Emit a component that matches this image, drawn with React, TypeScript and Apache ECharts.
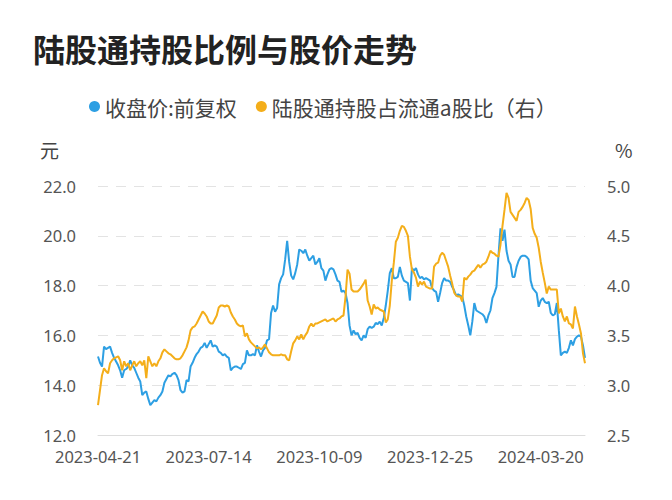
import React, { useEffect, useRef } from "react";
import * as echarts from "echarts";

const TITLE = "陆股通持股比例与股价走势";
const SERIES_PRICE = "收盘价:前复权";
const SERIES_PCT = "陆股通持股占流通a股比（右）";
const START_DATE = "2023-04-21";
const HOLIDAYS = [
  "2023-05-01", "2023-05-02", "2023-05-03", "2023-06-22", "2023-06-23",
  "2023-09-29", "2023-10-02", "2023-10-03", "2023-10-04", "2023-10-05", "2023-10-06",
  "2024-01-01", "2024-02-09", "2024-02-12", "2024-02-13", "2024-02-14", "2024-02-15",
  "2024-02-16", "2024-04-04", "2024-04-05",
];

const price = [
  15.15, 14.9, 14.75, 15.55, 15.45, 15.5, 15.55, 15.3, 15.1, 14.95,
  14.8, 14.6, 14.3, 14.6, 14.65, 14.75, 15.0, 14.8, 14.7, 14.5,
  14.3, 14.15, 13.6, 13.7, 13.75, 13.45, 13.2, 13.3, 13.4, 13.35,
  13.5, 13.6, 13.75, 14.1, 14.25, 14.4, 14.35, 14.45, 14.5, 14.4,
  14.2, 13.8, 13.7, 13.75, 14.2, 14.15, 14.75, 14.9, 15.1, 15.25,
  15.35, 15.5, 15.55, 15.7, 15.5, 15.65, 15.8, 15.55, 15.6, 15.55,
  15.35, 15.3, 15.2, 15.25, 15.15, 15.1, 14.6, 14.7, 14.75, 14.75,
  14.7, 14.65, 14.85, 14.9, 15.4, 15.2, 15.2, 15.25, 15.2, 15.6,
  15.35, 15.15, 15.4, 15.5, 15.8, 15.85, 16.9, 17.2, 16.95, 17.1,
  18.05, 18.3, 18.45, 19.05, 19.8, 18.95, 18.4, 18.25, 18.5, 18.85,
  19.45, 19.4, 19.3, 19.45, 19.2, 19.0, 19.1, 19.2, 18.85, 18.95,
  19.1, 18.7, 18.6, 18.2, 18.45, 18.65, 18.7, 18.65, 18.45, 18.2,
  18.15, 17.75, 17.8, 17.7, 17.3, 16.4, 16.0, 16.2, 16.05, 16.1,
  15.9, 15.8, 16.0, 15.9, 16.25, 16.35, 16.3, 16.35, 16.5, 16.45,
  16.55, 16.4, 16.7, 17.2, 17.8, 18.5, 18.7, 18.3, 18.3, 18.35,
  18.75, 18.4, 18.2, 18.15, 18.1, 17.4, 18.7, 18.6, 18.7, 18.45,
  18.3, 18.35, 18.25, 18.3, 18.25, 18.2, 17.9, 17.8, 17.75, 17.35,
  17.7, 18.1, 18.3, 18.2, 18.2, 18.15, 17.95, 17.8, 17.6, 17.65,
  17.6, 17.55, 17.2, 16.75, 16.4, 16.0, 16.55, 17.3, 17.0, 16.95,
  16.9, 16.85, 16.75, 16.5, 16.8, 17.0, 17.5, 17.7, 17.95, 19.2,
  20.3, 19.8, 20.25, 19.4, 19.0, 18.85, 18.35, 18.35, 18.75, 19.0,
  19.15, 19.2, 19.2, 19.15, 19.05, 18.2, 17.9, 17.8, 17.7, 17.15,
  17.4, 17.5, 17.35, 17.3, 17.35, 16.9, 16.8, 16.85, 17.3, 16.2,
  15.2, 15.3, 15.35, 15.3, 15.5, 15.8, 15.6, 15.85, 15.95, 16.0,
  15.95, 15.6, 15.1,
];

const holdPct = [
  2.8, 2.95, 3.1, 3.17, 3.14, 3.12, 3.22, 3.25, 3.27, 3.28,
  3.29, 3.25, 3.15, 3.24, 3.19, 3.22, 3.15, 3.2, 3.24, 3.19,
  3.22, 3.24, 3.2, 3.25, 3.07, 3.29, 3.24, 3.19, 3.22, 3.19,
  3.24, 3.27, 3.33, 3.36, 3.34, 3.32, 3.31, 3.29, 3.27, 3.26,
  3.26, 3.27, 3.3, 3.34, 3.38, 3.45, 3.55, 3.58, 3.59, 3.62,
  3.66, 3.7, 3.74, 3.72, 3.69, 3.64, 3.62, 3.62, 3.66, 3.7,
  3.78, 3.8, 3.8, 3.79, 3.8, 3.79, 3.73, 3.69, 3.66, 3.62,
  3.6, 3.59, 3.6, 3.49, 3.52, 3.46, 3.43, 3.41, 3.39, 3.37,
  3.38, 3.36, 3.38, 3.41, 3.37, 3.33, 3.31, 3.3, 3.3, 3.3,
  3.3, 3.31, 3.3, 3.3, 3.26, 3.25, 3.34, 3.42, 3.45, 3.49,
  3.46, 3.51, 3.46, 3.5, 3.53, 3.59, 3.62, 3.59, 3.62, 3.62,
  3.63, 3.64, 3.65, 3.66, 3.64, 3.65, 3.66, 3.67, 3.64, 3.66,
  3.67, 3.69, 3.7, 3.89, 4.16, 4.12, 3.96, 3.94, 3.94, 3.94,
  3.96, 3.99, 4.02, 4.06, 3.85, 3.79, 3.71, 3.81, 3.77, 3.78,
  3.76, 3.75, 3.74, 3.63, 3.66, 3.8, 4.05, 4.23, 4.44, 4.48,
  4.55, 4.6, 4.59, 4.55, 4.5, 4.29, 4.16, 4.13, 4.08, 3.99,
  4.04, 4.01, 4.04, 3.99, 3.98, 3.97, 3.97, 4.19, 4.22, 4.23,
  4.3, 4.33, 4.31, 4.25, 4.19, 4.1, 4.02, 3.93, 3.9, 3.89,
  3.89, 3.84, 4.08, 4.06, 4.09, 4.11, 4.14, 4.15, 4.18, 4.21,
  4.18, 4.21, 4.22, 4.24, 4.29, 4.35, 4.33, 4.32, 4.3, 4.29,
  4.41, 4.6, 4.76, 4.93, 4.88, 4.74, 4.71, 4.68, 4.65, 4.74,
  4.76, 4.79, 4.83, 4.88, 4.86, 4.77, 4.58, 4.52, 4.48, 4.38,
  4.24, 4.13, 4.03, 3.92, 3.99, 3.96, 3.96, 3.96, 3.96, 3.72,
  3.77, 3.69, 3.64, 3.69, 3.62, 3.61, 3.57, 3.79, 3.69, 3.61,
  3.52, 3.32, 3.22,
];

function tradingDays(start: string, count: number, holidays: string[]): string[] {
  const out: string[] = [];
  const d = new Date(start + "T00:00:00Z");
  const hs = new Set(holidays);
  while (out.length < count) {
    const s = d.toISOString().slice(0, 10);
    const wd = d.getUTCDay();
    if (wd !== 0 && wd !== 6 && !hs.has(s)) out.push(s);
    d.setUTCDate(d.getUTCDate() + 1);
  }
  return out;
}

const dates = tradingDays(START_DATE, price.length, HOLIDAYS);

const FONT = "'Noto Sans CJK SC', 'Noto Sans', sans-serif";
const NUM_FONT = "'Noto Sans', 'Noto Sans CJK SC', sans-serif";
const BLUE = "#2D9FE3";
const ORANGE = "#F4AE1A";

export default function App() {
  const ref = useRef<HTMLDivElement>(null);
  useEffect(() => {
    if (!ref.current) return;
    const chart = echarts.init(ref.current, undefined, { renderer: "svg" });
    chart.setOption({
      animation: false,
      backgroundColor: "#fff",
      textStyle: { fontFamily: FONT },
      title: {
        text: TITLE,
        left: 28,
        top: 27,
        textStyle: { fontSize: 32, fontWeight: "bold", color: "#222", fontFamily: FONT },
      },
      legend: {
        left: 89,
        top: 96,
        icon: "circle",
        itemWidth: 11,
        itemHeight: 11,
        itemGap: 19,
        padding: 0,
        textStyle: { fontSize: 21, color: "#444", fontFamily: FONT },
        data: [SERIES_PRICE, SERIES_PCT],
      },
      graphic: [
        { type: "text", left: 40, top: 140, style: { text: "元", fontSize: 19, fill: "#444", fontFamily: FONT } },
        { type: "text", left: 615, top: 140, style: { text: "%", fontSize: 19, fill: "#444", fontFamily: FONT } },
      ],
      grid: { left: 98, right: 87, top: 186, bottom: 65 },
      xAxis: {
        type: "category",
        data: dates,
        boundaryGap: false,
        axisLine: { show: true, lineStyle: { color: "#ddd" } },
        axisTick: { show: false },
        axisLabel: { interval: 54, fontSize: 16.5, lineHeight: 16, color: "#555", margin: 13, fontFamily: NUM_FONT },
      },
      yAxis: [
        {
          type: "value",
          min: 12,
          max: 22,
          interval: 2,
          axisLine: { show: false },
          axisTick: { show: false },
          axisLabel: { fontSize: 16.5, lineHeight: 16, color: "#555", margin: 22, formatter: (v: number) => v.toFixed(1), fontFamily: NUM_FONT },
          splitLine: { lineStyle: { type: [10, 8], color: "#e3e3e3" } },
        },
        {
          type: "value",
          min: 2.5,
          max: 5,
          interval: 0.5,
          position: "right",
          axisLine: { show: false },
          axisTick: { show: false },
          axisLabel: { fontSize: 16.5, lineHeight: 16, color: "#555", margin: 22, formatter: (v: number) => v.toFixed(1), fontFamily: NUM_FONT },
          splitLine: { show: false },
        },
      ],
      series: [
        {
          name: SERIES_PRICE,
          type: "line",
          data: price,
          yAxisIndex: 0,
          showSymbol: false,
          symbol: "circle",
          lineStyle: { width: 2, color: BLUE },
          itemStyle: { color: BLUE },
        },
        {
          name: SERIES_PCT,
          type: "line",
          data: holdPct,
          yAxisIndex: 1,
          showSymbol: false,
          symbol: "circle",
          lineStyle: { width: 2, color: ORANGE },
          itemStyle: { color: ORANGE },
        },
      ],
    });
    return () => chart.dispose();
  }, []);
  return <div ref={ref} style={{ position: "absolute", left: 0, top: 0, width: 672, height: 500 }} />;
}
